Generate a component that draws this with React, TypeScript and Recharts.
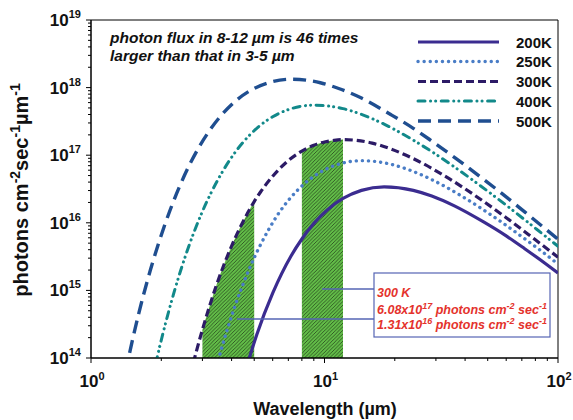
import { ComposedChart, Line, Area, XAxis, YAxis, ReferenceArea } from "recharts";

const FONT = "'Liberation Sans', Arial, Helvetica, sans-serif";
const W = 573;
const H = 420;

// wavelength in µm, photon flux in photons cm^-2 sec^-1 µm^-1
const wl200 = [4.5, 5.14, 6.0, 7.19, 8.0, 9.0, 10.3, 12, 14.4, 18, 24, 28.8, 36, 48, 60, 72, 90, 100];
const flux200 = [5.2e13, 2.27e14, 9.1e14, 3.23e15, 5.76e15, 9.8e15, 1.56e16, 2.29e16, 3.02e16, 3.4e16, 3.02e16, 2.49e16, 1.78e16, 1.03e16, 6.4e15, 4.14e15, 2.38e15, 1.81e15];

const wl250 = [3.2, 3.6, 4.11, 4.8, 5.76, 6.39, 7.19, 8.22, 9.59, 11.5, 14.4, 19.2, 23, 28.8, 38.4, 48, 57.6, 72, 85, 100];
const flux250 = [2.8e13, 1.28e14, 5.5e14, 2.21e15, 7.9e15, 1.41e16, 2.39e16, 3.81e16, 5.6e16, 7.36e16, 8.3e16, 7.36e16, 6.07e16, 4.35e16, 2.52e16, 1.55e16, 1.01e16, 5.8e15, 3.8e15, 2.45e15];

const wl300 = [2.66, 3.0, 3.43, 4.0, 4.8, 5.0, 5.33, 6.0, 6.85, 8.0, 9.0, 10, 11, 12, 16, 19.2, 24, 32, 40, 48, 60, 80, 100];
const flux300 = [5.7e13, 2.62e14, 1.14e15, 4.53e15, 1.62e16, 2.06e16, 2.88e16, 4.89e16, 7.8e16, 1.15e17, 1.4e17, 1.57e17, 1.66e17, 1.7e17, 1.51e17, 1.24e17, 8.9e16, 5.17e16, 3.18e16, 2.07e16, 1.19e16, 5.6e15, 3.1e15];

const wl400 = [1.8, 2.0, 2.25, 2.57, 3.0, 3.6, 4.0, 4.5, 5.14, 6.0, 7.2, 9.0, 12, 14.4, 18, 24, 30, 36, 45, 60, 72, 90, 100];
const flux400 = [3.8e13, 1.84e14, 8.5e14, 3.67e15, 1.47e16, 5.2e16, 9.3e16, 1.58e17, 2.52e17, 3.71e17, 4.88e17, 5.5e17, 4.88e17, 4.02e17, 2.88e17, 1.67e17, 1.03e17, 6.7e16, 3.84e16, 1.82e16, 1.11e16, 6.0e15, 4.5e15];

const wl500 = [1.3, 1.44, 1.6, 1.8, 2.06, 2.4, 2.88, 3.2, 3.6, 4.11, 4.8, 5.76, 7.2, 9.6, 11.5, 14.4, 19.2, 24, 28.8, 36, 48, 57.6, 72, 100];
const flux500 = [1.6e13, 9.2e13, 4.5e14, 2.05e15, 8.9e15, 3.5e16, 1.26e17, 2.25e17, 3.83e17, 6.1e17, 9.0e17, 1.18e18, 1.33e18, 1.18e18, 9.7e17, 7.0e17, 4.0e17, 2.5e17, 1.62e17, 9.3e16, 4.4e16, 2.7e16, 1.45e16, 5.7e15];

// atmospheric windows shaded under the 300K curve
const bands = [
  [3, 5],
  [8, 12],
];

const xDecades = [0, 1, 2];
const yDecades = [14, 15, 16, 17, 18, 19];
const minorSteps = [2, 3, 4, 5, 6, 7, 8, 9];

const pairs = (wl: number[], flux: number[]) => wl.map((x, i) => ({ x, y: flux[i] }));

const SERIES = [
  { name: "200K", data: pairs(wl200, flux200), color: "#3b2c90", width: 3.2, dash: undefined, cap: "butt" },
  { name: "250K", data: pairs(wl250, flux250), color: "#4a7dc6", width: 3.4, dash: "0.1 6", cap: "round" },
  { name: "300K", data: pairs(wl300, flux300), color: "#2c1b66", width: 3.2, dash: "8 4", cap: "butt" },
  { name: "400K", data: pairs(wl400, flux400), color: "#12898a", width: 3, dash: "7 5.5 0.1 5 0.1 5.5", cap: "round" },
  { name: "500K", data: pairs(wl500, flux500), color: "#1f4e90", width: 3.4, dash: "13 7", cap: "butt" },
];

const series300 = SERIES[2].data;
const bandData = bands.map(([lo, hi]) => series300.filter((p) => p.x >= lo && p.x <= hi));

function logTicks(decades: number[]) {
  const out: number[] = [];
  decades.forEach((e, i) => {
    out.push(10 ** e);
    if (i < decades.length - 1) minorSteps.forEach((m) => out.push(m * 10 ** e));
  });
  return out;
}

const xTicks = logTicks(xDecades);
const yTicks = logTicks(yDecades);

const exponentOf = (v: number) => {
  const e = Math.log10(v);
  return Math.abs(e - Math.round(e)) < 1e-6 ? Math.round(e) : null;
};

function XTick(props: any) {
  const { x, y, payload } = props;
  const e = exponentOf(payload.value);
  return (
    <g>
      <line x1={x} x2={x} y1={y} y2={y + (e !== null ? 5 : 3)} stroke="#000" strokeWidth={1} />
      {e !== null && (
        <text x={x + 1} y={y + 29} textAnchor="middle" fontFamily={FONT} fontWeight="bold" fontSize={17} fill="#111">
          10
          <tspan dy={-7} fontSize={11}>
            {e}
          </tspan>
        </text>
      )}
    </g>
  );
}

function YTick(props: any) {
  const { x, y, payload } = props;
  const e = exponentOf(payload.value);
  return (
    <g>
      <line x1={x - (e !== null ? 5 : 3)} x2={x} y1={y} y2={y} stroke="#000" strokeWidth={1} />
      {e !== null && (
        <text x={x - 10} y={y + 6} textAnchor="end" fontFamily={FONT} fontWeight="bold" fontSize={17} fill="#111">
          10
          <tspan dy={-8} fontSize={11}>
            {e}
          </tspan>
        </text>
      )}
    </g>
  );
}

const RED = "#e4322c";
const BOX = "#5564b4";

function Sup({ children }: { children: string }) {
  return (
    <>
      <tspan dy={-5} fontSize={9}>
        {children}
      </tspan>
      <tspan dy={5}> </tspan>
    </>
  );
}

function Overlay() {
  const rows = [42, 61.5, 81.5, 101, 121];
  return (
    <svg width={W} height={H} style={{ position: "absolute", left: 0, top: 0, pointerEvents: "none" }}>
      {/* axis titles */}
      <text
        transform="rotate(-90)"
        x={-190}
        y={28}
        textAnchor="middle"
        fontFamily={FONT}
        fontWeight="bold"
        fontSize={20}
        fill="#111"
      >
        photons cm
        <tspan dy={-8} fontSize={14}>-2</tspan>
        <tspan dy={8}>sec</tspan>
        <tspan dy={-8} fontSize={14}>-1</tspan>
        <tspan dy={8}>µm</tspan>
        <tspan dy={-8} fontSize={14}>-1</tspan>
      </text>
      <text x={325} y={415} textAnchor="middle" fontFamily={FONT} fontWeight="bold" fontSize={18} fill="#111">
        Wavelength (µm)
      </text>

      {/* note */}
      <g fontFamily={FONT} fontWeight="bold" fontStyle="italic" fontSize={15.5} fill="#111">
        <text x={110} y={43}>photon flux in 8-12 µm is 46 times</text>
        <text x={110} y={61}>larger than that in 3-5 µm</text>
      </g>

      {/* legend */}
      {SERIES.map((s, i) => (
        <g key={s.name}>
          <line
            x1={418}
            x2={499}
            y1={rows[i]}
            y2={rows[i]}
            stroke={s.color}
            strokeWidth={s.width}
            strokeDasharray={s.dash}
            strokeLinecap={s.cap as any}
          />
          <text x={516} y={rows[i] + 5.5} fontFamily={FONT} fontWeight="bold" fontSize={15} fill="#111">
            {s.name}
          </text>
        </g>
      ))}

      {/* callout */}
      <line x1={322} x2={374} y1={289} y2={289} stroke={BOX} strokeWidth={1.6} />
      <line x1={237} x2={374} y1={319} y2={319} stroke={BOX} strokeWidth={1.6} />
      <rect x={374} y={273} width={176} height={64} fill="#fff" stroke={BOX} strokeWidth={1.2} />
      <g fontFamily={FONT} fontWeight="bold" fontStyle="italic" fontSize={12.5} fill={RED}>
        <text x={377} y={297}>300 K</text>
        <text x={377} y={314}>
          6.08x10
          <Sup>17</Sup>
          photons cm
          <Sup>-2</Sup>
          sec
          <tspan dy={-5} fontSize={9}>-1</tspan>
        </text>
        <text x={377} y={329}>
          1.31x10
          <Sup>16</Sup>
          photons cm
          <Sup>-2</Sup>
          sec
          <tspan dy={-5} fontSize={9}>-1</tspan>
        </text>
      </g>
    </svg>
  );
}

export default function App() {
  return (
    <div style={{ position: "absolute", left: 0, top: 0, width: W, height: H, background: "#fff" }}>
      <ComposedChart width={W} height={H} margin={{ top: 20, right: 15, bottom: 0, left: 0 }}>
        <defs>
          <pattern id="hatch" width={3.6} height={3.6} patternUnits="userSpaceOnUse">
            <rect width={3.6} height={3.6} fill="#62bd48" />
            <path d="M-0.9,0.9 L0.9,-0.9 M0,3.6 L3.6,0 M2.7,4.5 L4.5,2.7" stroke="#1d3316" strokeWidth={0.7} />
          </pattern>
        </defs>
        <XAxis
          dataKey="x"
          type="number"
          scale="log"
          domain={[1, 100]}
          ticks={xTicks}
          interval={0}
          allowDataOverflow
          height={62}
          tickSize={0}
          tickMargin={0}
          tickLine={false}
          axisLine={{ stroke: "#000", strokeWidth: 1 }}
          tick={<XTick />}
        />
        <YAxis
          dataKey="y"
          type="number"
          scale="log"
          domain={[1e14, 1e19]}
          ticks={yTicks}
          interval={0}
          allowDataOverflow
          width={91}
          tickSize={0}
          tickMargin={0}
          tickLine={false}
          axisLine={{ stroke: "#000", strokeWidth: 1 }}
          tick={<YTick />}
        />
        {bandData.map((d, i) => (
          <Area
            key={i}
            data={d}
            dataKey="y"
            type="monotone"
            baseValue={1e14}
            fill="url(#hatch)"
            fillOpacity={1}
            stroke="none"
            isAnimationActive={false}
          />
        ))}
        {SERIES.map((s) => (
          <Line
            key={s.name}
            name={s.name}
            data={s.data}
            dataKey="y"
            type="monotone"
            stroke={s.color}
            strokeWidth={s.width}
            strokeDasharray={s.dash}
            strokeLinecap={s.cap as any}
            dot={false}
            activeDot={false}
            isAnimationActive={false}
          />
        ))}
        <ReferenceArea x1={1} x2={100} y1={1e14} y2={1e19} fill="none" stroke="#000" strokeWidth={1} />
      </ComposedChart>
      <Overlay />
    </div>
  );
}
